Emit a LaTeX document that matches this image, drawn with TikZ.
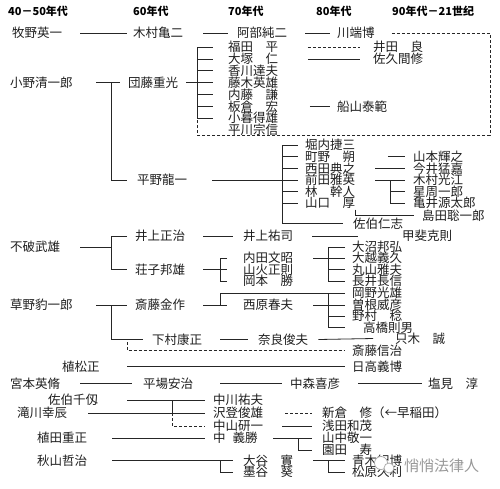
\documentclass[tikz,border=0pt]{standalone}
\usepackage{fontspec}
\newfontfamily\jpf{Noto Sans CJK JP}
\usetikzlibrary{calc}
\tikzset{
  nm/.style={anchor=west, inner sep=0pt, text=black!88, font=\jpf\fontsize{12.5}{12.5}\selectfont, text height=11pt, text depth=1.5pt},
  hd/.style={anchor=west, inner sep=0pt, text=black, font=\jpf\bfseries\fontsize{11}{11}\selectfont, text height=10pt, text depth=1.5pt},
  ln/.style={line width=0.8pt, draw=black!85},
  dsh/.style={ln, dash pattern=on 3pt off 2pt},
}
\begin{document}
\begin{tikzpicture}[x=1pt,y=-1pt]
\useasboundingbox (0,0) rectangle (500,488);
\fill[white] (0,0) rectangle (500,488);
% spines
\coordinate (sA) at (111,0);
\coordinate (sB) at (197,0);
\coordinate (sC) at (282,0);
\coordinate (sD) at (390,0);
\coordinate (sE) at (220,0);
\coordinate (sF) at (328,0);
\coordinate (sG) at (172,0);
\coordinate (sH) at (298,0);
\coordinate (bR) at (490,135);
\coordinate (dS) at (127,342);
% headers
\node[hd] (h1) at (8,11) {40－50年代};
\node[hd] (h2) at (133,11) {60年代};
\node[hd] (h3) at (228,11) {70年代};
\node[hd] (h4) at (316,11) {80年代};
\node[hd] (h5) at (392,11) {90年代－21世纪};
% row 1
\node[nm] (makino) at (12,33) {牧野英一};
\node[nm] (kimura) at (133,33) {木村亀二};
\node[nm] (abe) at (237,33) {阿部純二};
\node[nm] (kawabata) at (337,33) {川端博};
% dando group
\node[nm] (ono) at (10,82.6) {小野清一郎};
\node[nm] (dando) at (128,82.6) {団藤重光};
\node[nm] (fukuda) at (228,47) {福田　平};
\node[nm] (otsuka) at (228,58.9) {大塚　仁};
\node[nm] (kagawa) at (228,70.7) {香川達夫};
\node[nm] (fujiki) at (228,82.6) {藤木英雄};
\node[nm] (naito) at (228,94.4) {内藤　謙};
\node[nm] (itakura) at (228,106.3) {板倉　宏};
\node[nm] (kogure) at (228,118.2) {小暮得雄};
\node[nm] (hirakawa) at (228,130) {平川宗信};
\node[nm] (ida) at (373,47) {井田　良};
\node[nm] (sakuma) at (373,58.9) {佐久間修};
\node[nm] (funayama) at (337,106.3) {船山泰範};
% hirano group
\node[nm] (hirano) at (137,180) {平野龍一};
\node[nm] (horiuchi) at (305,145) {堀内捷三};
\node[nm] (machino) at (305,156.6) {町野　朔};
\node[nm] (nishida) at (305,168.3) {西田典之};
\node[nm] (maeda) at (305,180) {前田雅英};
\node[nm] (hayashi) at (305,191.6) {林　幹人};
\node[nm] (yamaguchi) at (305,203.2) {山口　厚};
\node[nm] (yamamoto) at (413,156.6) {山本輝之};
\node[nm] (imai) at (413,168.3) {今井猛嘉};
\node[nm] (kimura2) at (413,180) {木村光江};
\node[nm] (hoshi) at (413,191.6) {星周一郎};
\node[nm] (kamei) at (413,203.2) {亀井源太郎};
\node[nm] (shimada) at (422,215.5) {島田聡一郎};
\node[nm] (saeki2) at (353,223.5) {佐伯仁志};
% fuwa group
\node[nm] (fuwa) at (10,247) {不破武雄};
\node[nm] (inoue) at (135,236) {井上正治};
\node[nm] (shoji) at (135,269.5) {荘子邦雄};
\node[nm] (inoue2) at (243,236) {井上祐司};
\node[nm] (kai) at (402,236) {甲斐克則};
\node[nm] (uchida) at (243,258) {内田文昭};
\node[nm] (yamabi) at (243,269.5) {山火正則};
\node[nm] (okamoto) at (243,281) {岡本　勝};
\node[nm] (onuma) at (352,247) {大沼邦弘};
\node[nm] (okoshi) at (352,258) {大越義久};
\node[nm] (maruyama) at (352,269.5) {丸山雅夫};
\node[nm] (nagai) at (352,281) {長井長信};
% kusano group
\node[nm] (kusano) at (10,305) {草野豹一郎};
\node[nm] (saito) at (135,305) {斎藤金作};
\node[nm] (nishihara) at (243,305) {西原春夫};
\node[nm] (okano) at (352,293) {岡野光雄};
\node[nm] (sone) at (352,305) {曽根威彦};
\node[nm] (nomura) at (352,316) {野村　稔};
\node[nm] (takahashi) at (363,327.5) {高橋則男};
\node[nm] (shimomura) at (152,339.5) {下村康正};
\node[nm] (nara) at (258,339.5) {奈良俊夫};
\node[nm] (tadaki) at (395,338.5) {只木　誠};
\node[nm] (saito2) at (352,350.5) {斎藤信治};
% lower rows
\node[nm] (uematsu) at (62,366.5) {植松正};
\node[nm] (hidaka) at (352,366.5) {日高義博};
\node[nm] (miyamoto) at (10,383.5) {宮本英脩};
\node[nm] (hiraba) at (143,383.5) {平場安治};
\node[nm] (nakamori) at (290,383.5) {中森喜彦};
\node[nm] (shiomi) at (428,383.5) {塩見　淳};
\node[nm] (saeki) at (48,400) {佐伯千仭};
\node[nm] (nakagawa) at (213,400) {中川祐夫};
\node[nm] (takikawa) at (17,413) {滝川幸辰};
\node[nm] (sawanobori) at (213,413) {沢登俊雄};
\node[nm] (niikura) at (322,413) {新倉　修（←早稲田）};
\node[nm] (nakayama) at (213,426) {中山研一};
\node[nm] (asada) at (322,426) {浅田和茂};
\node[nm] (ueda) at (37,438) {植田重正};
\node[nm] (naka) at (213,438) {中\hspace{7pt}義勝};
\node[nm] (yamanaka) at (322,438) {山中敬一};
\node[nm] (sonoda) at (322,450) {園田　寿};
\node[nm] (akiyama) at (37,460.5) {秋山哲治};
\node[nm] (otani) at (243,460.5) {大谷　實};
\node[nm] (sumiya) at (243,472) {墨谷　葵};
\node[nm] (aoki) at (352,460.5) {青木紀博};
\node[nm] (matsubara) at (352,472) {松原久利};

% ---- connectors ----
\draw[ln] ([xshift=18pt]makino.east) -- ([xshift=-6pt]kimura.west);
\draw[ln] ([xshift=20pt]kimura.east) -- ([xshift=-9pt]abe.west);
\draw[ln] ([xshift=18pt]abe.east) -- ([xshift=-7pt]kawabata.west);
\draw[dsh] ([xshift=17pt]kawabata.east) -| (bR) -- (sB |- bR) -- (sB |- kogure);

\draw[ln] ([xshift=23.5pt]ono.east) -- ([xshift=-8pt]dando.west);
\draw[ln] (sA |- ono) |- ([xshift=-10pt]hirano.west);
\draw[ln] ([xshift=8pt]dando.east) -- (sB |- dando);
\draw[ln] (sB |- fukuda) -- (sB |- kogure);
\foreach \n in {fukuda,otsuka,kagawa,fujiki,naito,itakura,kogure}
  \draw[ln] (sB |- \n) -- ([xshift=-15pt]\n.west);
\draw[dsh] ([xshift=29.5pt]fukuda.east) -- ([xshift=-13pt]ida.west);
\draw[ln] ([xshift=29.5pt]otsuka.east) -- ([xshift=-13pt]sakuma.west);
\draw[ln] ([xshift=31.5pt]itakura.east) -- ([xshift=-7pt]funayama.west);

\draw[ln] ([xshift=25pt]hirano.east) -- (sC |- hirano);
\draw[ln] (sC |- horiuchi) |- ([xshift=-10pt]saeki2.west);
\foreach \n in {horiuchi,machino,nishida,maeda,hayashi,yamaguchi}
  \draw[ln] (sC |- \n) -- ([xshift=-7pt]\n.west);
\draw[ln] (yamaguchi.south east) |- ([xshift=-8pt]shimada.west);
\draw[ln] ([xshift=32.5pt]machino.east) -- ([xshift=-8pt]yamamoto.west);
\draw[ln] ([xshift=20pt]nishida.east) -- ([xshift=-8pt]imai.west);
\draw[ln] ([xshift=20pt]maeda.east) -- ([xshift=-8pt]kimura2.west);
\draw[ln] (sD |- kimura2) |- ([xshift=-8pt]kamei.west);
\draw[ln] (sD |- hoshi) -- ([xshift=-8pt]hoshi.west);

\draw[ln] ([xshift=20pt]fuwa.east) -- (sA |- fuwa);
\draw[ln] ([xshift=-8pt]inoue.west) -| (sA |- shoji) -- ([xshift=-8pt]shoji.west);
\draw[ln] ([xshift=18pt]inoue.east) -- ([xshift=-10pt]inoue2.west);
\draw[ln] ([xshift=19pt]inoue2.east) -- ([xshift=-44pt]kai.west);
\draw[ln] ([xshift=18pt]shoji.east) -- ([xshift=-16pt]yamabi.west);
\draw[ln] ([xshift=-16pt]uchida.west) -| (sE |- okamoto) -- ([xshift=-16pt]okamoto.west);
\draw[ln] ([xshift=20pt]uchida.east) -- ([xshift=-7pt]okoshi.west);
\draw[ln] ([xshift=-7pt]onuma.west) -| (sF |- nagai) -- ([xshift=-7pt]nagai.west);
\draw[ln] (sF |- maruyama) -- ([xshift=-7pt]maruyama.west);

\draw[ln] ([xshift=23.5pt]kusano.east) -- ([xshift=-8pt]saito.west);
\draw[ln] (sA |- kusano) |- ([xshift=-9pt]shimomura.west);
\draw[ln] ([xshift=18pt]saito.east) -- ([xshift=-16pt]nishihara.west);
\draw[ln] (sE |- saito) |- (sF |- okano) -- (sF |- takahashi);
\draw[ln] ([xshift=20pt]nishihara.east) -- ([xshift=-7pt]sone.west);
\foreach \n in {okano,nomura}
  \draw[ln] (sF |- \n) -- ([xshift=-7pt]\n.west);
\draw[ln] (sF |- takahashi) -- ([xshift=-18pt]takahashi.west);
\draw[ln] ([xshift=18pt]shimomura.east) -- ([xshift=-10pt]nara.west);
\draw[ln] ([xshift=10pt]nara.east) -- ([xshift=-22pt]tadaki.west);
\draw[dsh] (dS) |- ([xshift=-7pt]saito2.west);

\draw[ln] ([xshift=27.5pt]uematsu.east) -- ([xshift=-7pt]hidaka.west);
\draw[ln] ([xshift=20pt]miyamoto.east) -- ([xshift=-11pt]hiraba.west);
\draw[ln] ([xshift=27pt]hiraba.east) -- ([xshift=-8pt]nakamori.west);
\draw[ln] ([xshift=18pt]nakamori.east) -- ([xshift=-6pt]shiomi.west);
\draw[ln] ([xshift=29pt]saeki.east) -- ([xshift=-8pt]nakagawa.west);
\draw[ln] (sG |- saeki) -- (sG |- sawanobori);
\draw[dsh] (sG |- sawanobori) |- ([xshift=-8pt]nakayama.west);
\draw[ln] ([xshift=21pt]takikawa.east) -- ([xshift=-8pt]sawanobori.west);
\draw[dsh] ([xshift=22pt]sawanobori.east) -- ([xshift=-10pt]niikura.west);
\draw[ln] ([xshift=19pt]nakayama.east) -- ([xshift=-10pt]asada.west);
\draw[ln] ([xshift=25pt]ueda.east) -- ([xshift=-8pt]naka.west);
\draw[ln] ([xshift=15.5pt]naka.east) -- ([xshift=-10pt]yamanaka.west);
\draw[ln] (sH |- naka) |- ([xshift=-10pt]sonoda.west);
\draw[ln] ([xshift=25pt]akiyama.east) -- ([xshift=-10pt]otani.west);
\draw[ln] (sE |- akiyama) |- ([xshift=-10pt]sumiya.west);
\draw[ln] ([xshift=20pt]otani.east) -- ([xshift=-7pt]aoki.west);
\draw[ln] (sF |- otani) |- ([xshift=-7pt]matsubara.west);

% watermark
\draw[black!35, line width=0.7pt, fill=white] (381,463) circle (6.5);
\draw[black!35, line width=0.7pt, fill=white] (389,468) circle (5);
\node[anchor=west, inner sep=0pt, text=black!40, font=\jpf\fontsize{15}{15}\selectfont] (wm) at (404,466) {悄悄法律人};
\end{tikzpicture}
\end{document}
